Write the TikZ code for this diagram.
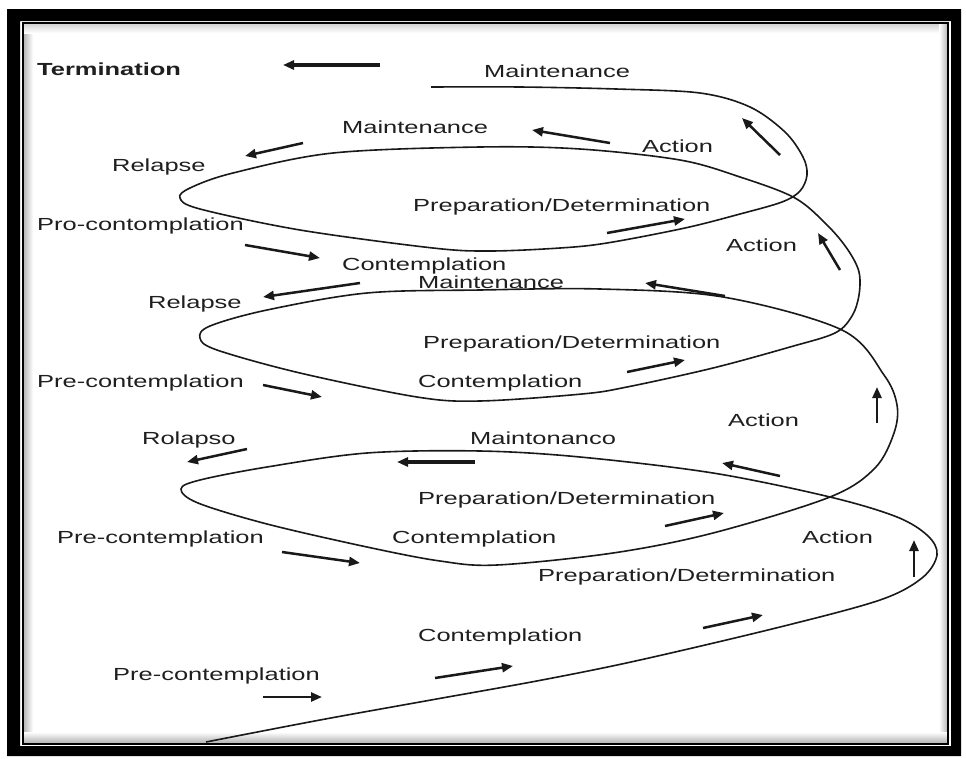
\documentclass[tikz,border=0pt]{standalone}
\usepackage{fontspec}
\setmainfont{Liberation Sans}[FakeStretch=1.455]
\usetikzlibrary{arrows.meta}
\begin{document}
\begin{tikzpicture}[x=1pt,y=-1pt,
  lbl/.style={anchor=base west, inner sep=0pt, font=\fontsize{17.5}{20}\selectfont, text=black!88},
  spiral/.style={line width=1.6pt, line join=round, black!90},
  arr/.style={line width=2.5pt, black!90, -{Triangle[length=11pt,width=9pt]}},
  heavy/.style={arr, line width=3.3pt}]
\useasboundingbox (0,0) rectangle (966,758);
\fill[white] (0,0) rectangle (966,758);

% picture frame: heavy black band, thin inner rule and a soft grey bevel
\fill[black, even odd rule] (7,9) rectangle (961,756) (20,21) rectangle (951,746);
\shade[left color=gray!55, right color=white] (24,24) rectangle (33,743);
\shade[top color=gray!35, bottom color=white] (24,24) rectangle (948,33);
\shade[left color=white, right color=gray!60] (939,24) rectangle (948,743);
\shade[top color=white, bottom color=gray!60] (24,732) rectangle (948,743);
\draw[black, line width=1.4pt] (23,23) rectangle (948,744);

% the rising spiral of the stages
\draw[spiral] plot[smooth, tension=0.55] coordinates {
  (206,742) (320,720) (431,700) (542,680) (640,660) (780,627) (880,600)
  (922,578) (937,555) (928,536) (897,517) (830,497) (713,473) (580,457)
  (480,451) (367,453) (267,467) (200,480) (181,489) (198,503) (267,524)
  (367,547) (440,561) (497,565) (613,553) (713,533) (830,497) (875,468)
  (894,433) (897,405) (884,375) (842,330) (723,297) (600,289) (480,290)
  (367,293) (267,310) (210,326) (200,338) (217,350) (300,373) (417,397)
  (480,401) (582,394) (627,387) (713,368) (790,347) (835,333) (852,316)
  (859,295) (859,272) (848,250) (828,226) (795,198) (740,177) (680,160)
  (580,149) (480,147) (333,153) (233,173) (190,188) (180,198) (200,209)
  (300,230) (433,248) (490,251) (560,248) (607,243) (685,228) (740,214)
  (782,202) (800,191) (807,175) (803,157) (785,132) (750,107) (700,93)
  (616,89) (520,87) (431,87)};

% direction arrows
\draw[heavy] (380,65) -- (283,65);
\draw[arr] (780,155) -- (742,118);
\draw[arr] (303,143) -- (245,156);
\draw[arr] (610,143) -- (532,130);
\draw[arr] (607,233) -- (685,219);
\draw[arr] (245,245) -- (320,258);
\draw[arr] (840,270) -- (818,233);
\draw[arr] (360,283) -- (263,297);
\draw[arr] (725,296) -- (645,283);
\draw[arr] (627,372) -- (685,360);
\draw[arr] (263,385) -- (322,397);
\draw[arr] (877,423) -- (877,387);
\draw[arr] (247,449) -- (187,462);
\draw[heavy] (475,462) -- (397,462);
\draw[arr] (282,552) -- (360,563);
\draw[arr] (780,476) -- (722,463);
\draw[arr] (665,526) -- (724,513);
\draw[arr] (914,577) -- (914,540);
\draw[arr] (703,628) -- (763,615);
\draw[arr] (435,678) -- (513,666);
\draw[arr] (263,697) -- (322,697);

% stage labels
\node[lbl, font=\fontsize{17.5}{20}\selectfont\bfseries] (term) at (37,75) {Termination};
\node[lbl] (maint1) at (484,77) {Maintenance};
\node[lbl] (maint2) at (342,133) {Maintenance};
\node[lbl] (act1) at (642,152) {Action};
\node[lbl] (rel1) at (112,171) {Relapse};
\node[lbl] (prep1) at (413,211) {Preparation/Determination};
\node[lbl] (pre1) at (37,230) {Pro-contomplation};
\node[lbl] (act2) at (726,251) {Action};
\node[lbl] (cont1) at (342,270) {Contemplation};
\node[lbl] (maint3) at (418,288) {Maintenance};
\node[lbl] (rel2) at (148,308) {Relapse};
\node[lbl] (prep2) at (423,348) {Preparation/Determination};
\node[lbl] (pre2) at (37,387) {Pre-contemplation};
\node[lbl] (cont2) at (418,387) {Contemplation};
\node[lbl] (act3) at (728,426) {Action};
\node[lbl] (rel3) at (142,444) {Rolapso};
\node[lbl] (maint4) at (470,444) {Maintonanco};
\node[lbl] (prep3) at (418,504) {Preparation/Determination};
\node[lbl] (pre3) at (57,543) {Pre-contemplation};
\node[lbl] (cont3) at (392,543) {Contemplation};
\node[lbl] (act4) at (802,543) {Action};
\node[lbl] (prep4) at (538,581) {Preparation/Determination};
\node[lbl] (cont4) at (418,641) {Contemplation};
\node[lbl] (pre4) at (113,680) {Pre-contemplation};
\end{tikzpicture}
\end{document}
